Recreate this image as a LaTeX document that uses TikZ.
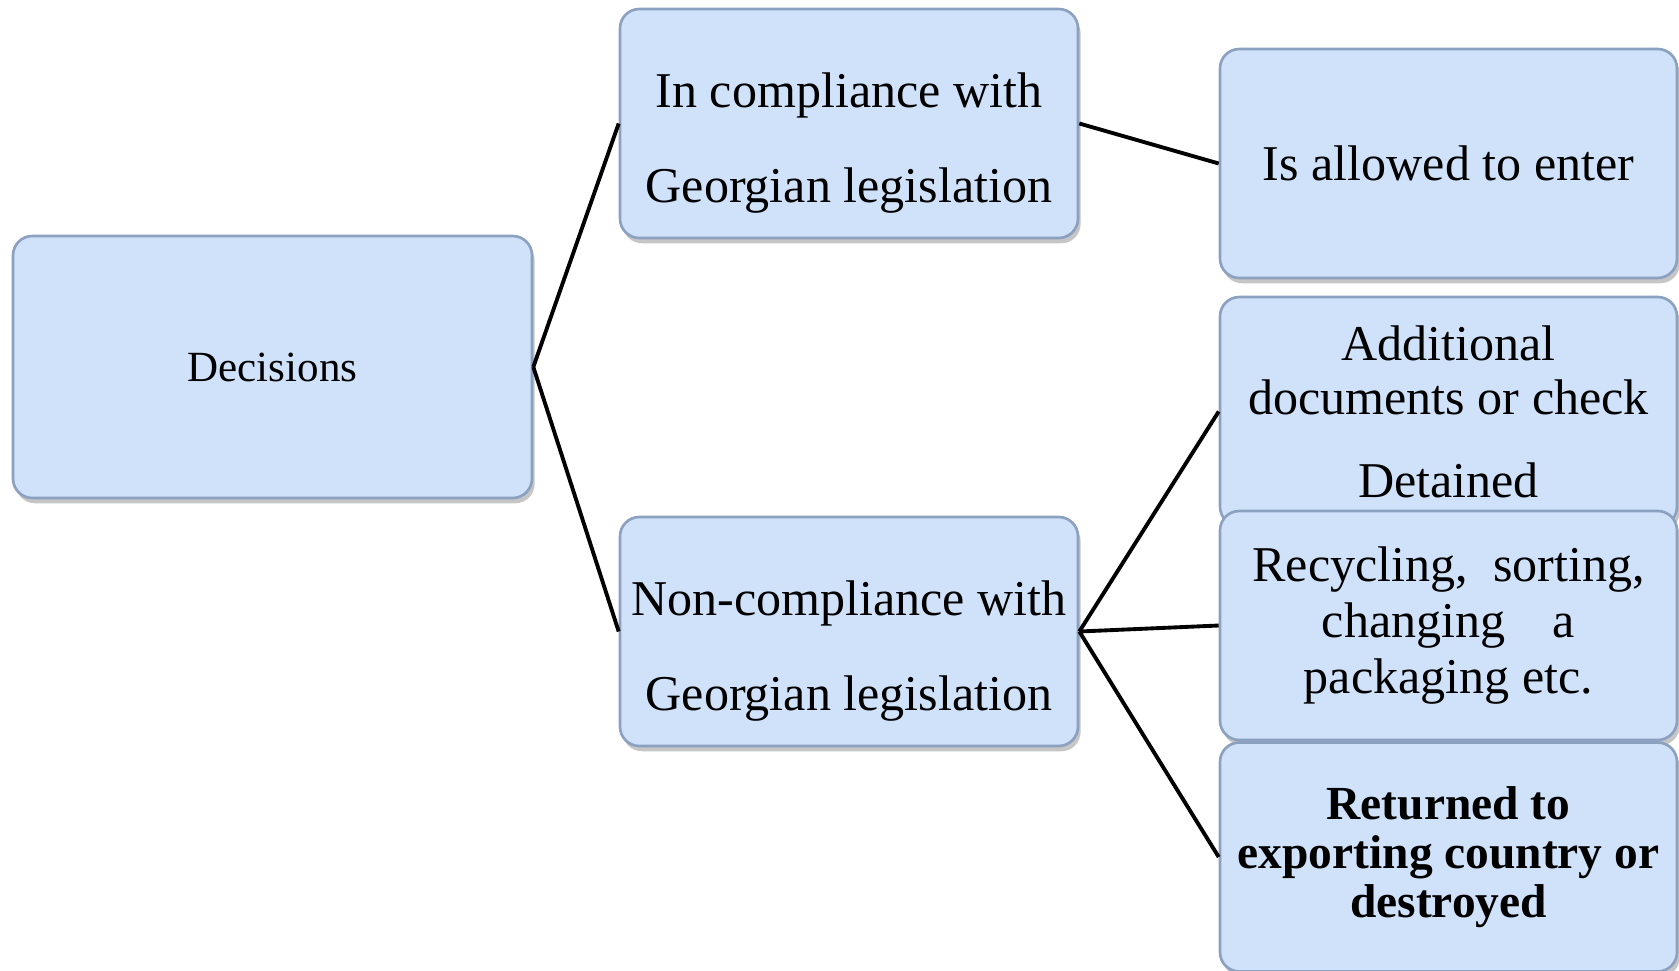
\documentclass[tikz,border=0pt]{standalone}
\usepackage{fontspec}
\setmainfont{Liberation Serif}
\usetikzlibrary{shadows}
\definecolor{boxfill}{RGB}{207,226,250}
\definecolor{boxline}{RGB}{140,160,192}
\newcommand{\toplift}{\rule{0pt}{42pt}}

\begin{document}
\begin{tikzpicture}[
		box/.style={rectangle,rounded corners=11pt,draw=boxline,line width=1.5pt,fill=boxfill,
			drop shadow={shadow xshift=1.5pt,shadow yshift=-3pt,opacity=0.45},
			align=center,inner sep=0pt,font=\fontsize{28.5}{32}\selectfont},
		midbox/.style={box,minimum width=9.16cm,minimum height=4.58cm,font=\fontsize{28.5}{54}\selectfont},
		endbox/.style={box,minimum width=9.14cm,minimum height=4.58cm},
		link/.style={line width=2.2pt,black}
	]
	\useasboundingbox (0,0) rectangle (33.58,-19.4);
	\node[box,minimum width=10.38cm,minimum height=5.24cm,font=\fontsize{24.5}{28}\selectfont] (dec) at (5.45,-7.34) {Decisions};
	\node[midbox] (comp) at (16.98,-2.47) {\toplift In compliance with\\Georgian legislation};
	\node[midbox] (noncomp) at (16.98,-12.63) {\toplift Non-compliance with\\Georgian legislation};
	\node[endbox] (allow) at (28.97,-3.27) {Is allowed to enter};
	\node[endbox,font=\fontsize{28.5}{31}\selectfont] (addit) at (28.97,-8.23) {Additional\\documents or check\\[16pt]Detained};
	\node[endbox,font=\fontsize{28.5}{32}\selectfont] (recyc) at (28.97,-12.51) {Recycling,\ \ sorting,\\changing\hspace{0.7em} a\\packaging etc.};
	\node[endbox,font=\fontsize{27}{28}\selectfont\bfseries] (ret) at (28.97,-17.14) {Returned to\\exporting country or\\destroyed};
	\draw[link] (dec.east) -- (comp.west);
	\draw[link] (dec.east) -- (noncomp.west);
	\draw[link] (comp.east) -- (allow.west);
	\draw[link] (noncomp.east) -- (addit.west);
	\draw[link] (noncomp.east) -- (recyc.west);
	\draw[link] (noncomp.east) -- (ret.west);
\end{tikzpicture}
\end{document}
